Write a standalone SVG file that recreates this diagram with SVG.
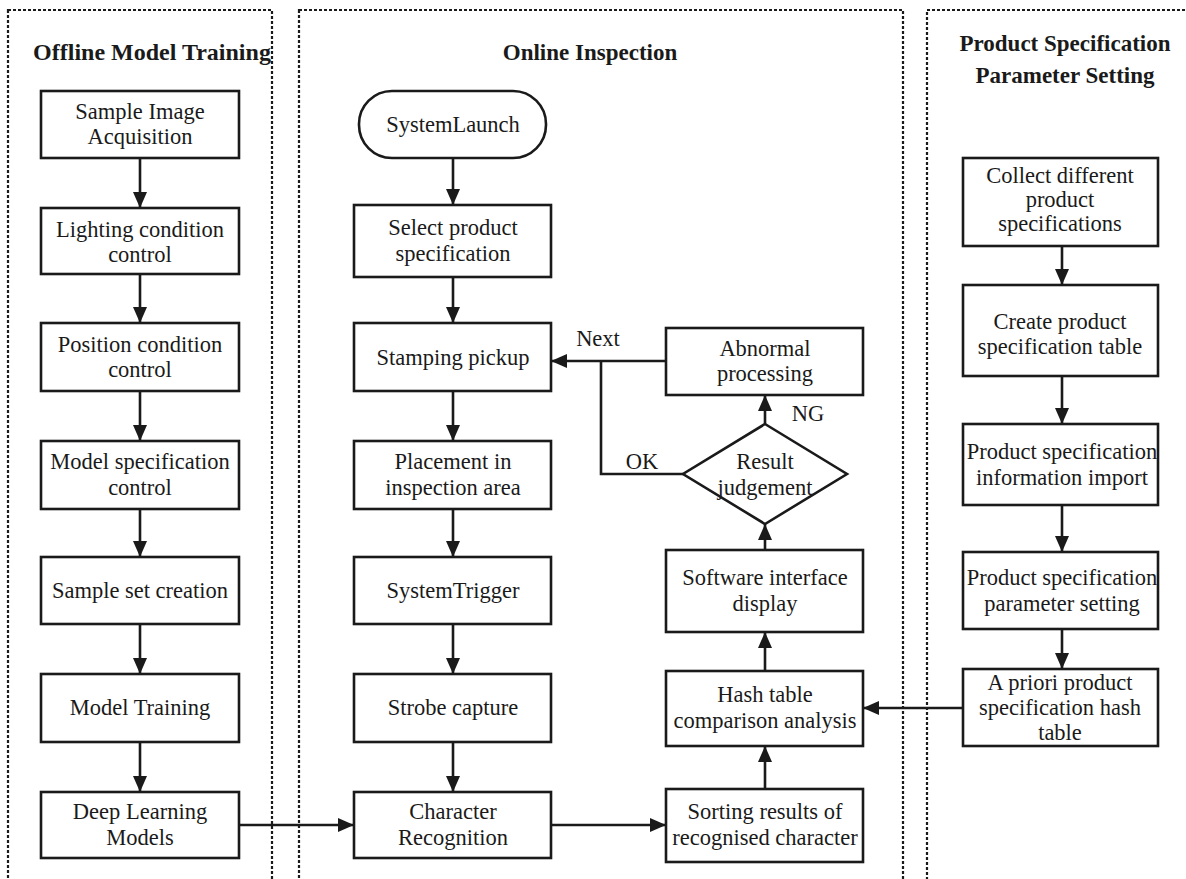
<svg xmlns="http://www.w3.org/2000/svg" width="1186" height="879" viewBox="0 0 1186 879">
<defs>
<marker id="ah" markerUnits="userSpaceOnUse" markerWidth="16" markerHeight="14" refX="16" refY="7" orient="auto">
<path d="M0,0 L16,7 L0,14 z" fill="#1a1a1a"/>
</marker>
<style>
.frame{fill:none;stroke:#1a1a1a;stroke-width:2.2;stroke-dasharray:3 2}
.box{fill:#fff;stroke:#1a1a1a;stroke-width:2.6}
.t{font-family:"Liberation Serif","Times New Roman",serif;font-size:22.5px;fill:#1a1a1a;text-anchor:middle}
.title{font-family:"Liberation Serif","Times New Roman",serif;font-size:23px;font-weight:bold;fill:#1a1a1a;text-anchor:middle}
.c{fill:none;stroke:#1a1a1a;stroke-width:2.6}
.a{fill:none;stroke:#1a1a1a;stroke-width:2.6;marker-end:url(#ah)}
</style>
</defs>
<rect width="1186" height="879" fill="#fff"/>
<g id="frames">
<rect class="frame" x="8" y="10" width="264" height="900"/>
<rect class="frame" x="299" y="10" width="604" height="900"/>
<rect class="frame" x="927" y="10" width="300" height="900"/>
<text class="title" x="152" y="60" style="font-size:24px">Offline Model Training</text>
<text class="title" x="590" y="60">Online Inspection</text>
<text class="title" x="1065" y="51">Product Specification</text>
<text class="title" x="1065" y="83">Parameter Setting</text>
</g>
<g id="connectors">
<line class="a" x1="140" y1="158" x2="140" y2="208"/>
<line class="a" x1="140" y1="274" x2="140" y2="323"/>
<line class="a" x1="140" y1="391" x2="140" y2="441"/>
<line class="a" x1="140" y1="509" x2="140" y2="557"/>
<line class="a" x1="140" y1="624" x2="140" y2="674"/>
<line class="a" x1="140" y1="742" x2="140" y2="792"/>
<line class="a" x1="239" y1="825" x2="354" y2="825"/>
<line class="a" x1="453" y1="158" x2="453" y2="205"/>
<line class="a" x1="453" y1="277" x2="453" y2="323"/>
<line class="a" x1="453" y1="391" x2="453" y2="441"/>
<line class="a" x1="453" y1="509" x2="453" y2="557"/>
<line class="a" x1="453" y1="624" x2="453" y2="674"/>
<line class="a" x1="453" y1="742" x2="453" y2="792"/>
<line class="a" x1="551" y1="825" x2="666" y2="825"/>
<line class="a" x1="765" y1="789" x2="765" y2="746"/>
<line class="a" x1="765" y1="671" x2="765" y2="632"/>
<line class="a" x1="765" y1="550" x2="765" y2="524"/>
<line class="a" x1="765" y1="424" x2="765" y2="395"/>
<line class="a" x1="666" y1="361" x2="551" y2="361"/>
<polyline class="c" points="683,474 601,474 601,361"/>
<line class="a" x1="963" y1="708" x2="863" y2="708"/>
<line class="a" x1="1062" y1="246" x2="1062" y2="285"/>
<line class="a" x1="1062" y1="376" x2="1062" y2="424"/>
<line class="a" x1="1062" y1="505" x2="1062" y2="552"/>
<line class="a" x1="1062" y1="629" x2="1062" y2="669"/>
<text class="t" x="598" y="346">Next</text>
<text class="t" x="642" y="469">OK</text>
<text class="t" x="808" y="421">NG</text>
</g>
<g id="n1"><rect class="box" x="41" y="91" width="198" height="67"/><text class="t" x="140" y="119">Sample Image</text><text class="t" x="140" y="144">Acquisition</text></g>
<g id="n2"><rect class="box" x="41" y="208" width="198" height="66"/><text class="t" x="140" y="237">Lighting condition</text><text class="t" x="140" y="262">control</text></g>
<g id="n3"><rect class="box" x="41" y="323" width="198" height="68"/><text class="t" x="140" y="352">Position condition</text><text class="t" x="140" y="377">control</text></g>
<g id="n4"><rect class="box" x="41" y="441" width="198" height="68"/><text class="t" x="140" y="469">Model specification</text><text class="t" x="140" y="495">control</text></g>
<g id="n5"><rect class="box" x="41" y="557" width="198" height="67"/><text class="t" x="140" y="598">Sample set creation</text></g>
<g id="n6"><rect class="box" x="41" y="674" width="198" height="68"/><text class="t" x="140" y="715">Model Training</text></g>
<g id="n7"><rect class="box" x="41" y="792" width="198" height="66"/><text class="t" x="140" y="819">Deep Learning</text><text class="t" x="140" y="845">Models</text></g>
<g id="m1"><rect class="box" x="359" y="91" width="187" height="67" rx="33" ry="33"/><text class="t" x="453" y="132">SystemLaunch</text></g>
<g id="m2"><rect class="box" x="354" y="205" width="197" height="72"/><text class="t" x="453" y="235">Select product</text><text class="t" x="453" y="261">specification</text></g>
<g id="m3"><rect class="box" x="354" y="323" width="197" height="68"/><text class="t" x="453" y="365">Stamping pickup</text></g>
<g id="m4"><rect class="box" x="354" y="441" width="197" height="68"/><text class="t" x="453" y="469">Placement in</text><text class="t" x="453" y="495">inspection area</text></g>
<g id="m5"><rect class="box" x="354" y="557" width="197" height="67"/><text class="t" x="453" y="598">SystemTrigger</text></g>
<g id="m6"><rect class="box" x="354" y="674" width="197" height="68"/><text class="t" x="453" y="715">Strobe capture</text></g>
<g id="m7"><rect class="box" x="354" y="792" width="197" height="66"/><text class="t" x="453" y="819">Character</text><text class="t" x="453" y="845">Recognition</text></g>
<g id="r1"><rect class="box" x="666" y="328" width="197" height="67"/><text class="t" x="765" y="356">Abnormal</text><text class="t" x="765" y="381">processing</text></g>
<g id="r2"><polygon class="box" points="765,424 847,474 765,524 683,474"/><text class="t" x="765" y="469">Result</text><text class="t" x="765" y="495">judgement</text></g>
<g id="r3"><rect class="box" x="666" y="550" width="197" height="82"/><text class="t" x="765" y="585">Software interface</text><text class="t" x="765" y="611">display</text></g>
<g id="r4"><rect class="box" x="666" y="671" width="197" height="75"/><text class="t" x="765" y="702">Hash table</text><text class="t" x="765" y="728">comparison analysis</text></g>
<g id="r5"><rect class="box" x="666" y="789" width="197" height="73"/><text class="t" x="765" y="819">Sorting results of</text><text class="t" x="765" y="845">recognised character</text></g>
<g id="p1"><rect class="box" x="963" y="158" width="195" height="88"/><text class="t" x="1060" y="183">Collect different</text><text class="t" x="1060" y="207">product</text><text class="t" x="1060" y="231">specifications</text></g>
<g id="p2"><rect class="box" x="963" y="285" width="195" height="91"/><text class="t" x="1060" y="329">Create product</text><text class="t" x="1060" y="354">specification table</text></g>
<g id="p3"><rect class="box" x="963" y="424" width="195" height="81"/><text class="t" x="1062" y="459">Product specification</text><text class="t" x="1062" y="485">information import</text></g>
<g id="p4"><rect class="box" x="963" y="552" width="195" height="77"/><text class="t" x="1062" y="585">Product specification</text><text class="t" x="1062" y="611">parameter setting</text></g>
<g id="p5"><rect class="box" x="963" y="669" width="195" height="77"/><text class="t" x="1060" y="690">A priori product</text><text class="t" x="1060" y="715">specification hash</text><text class="t" x="1060" y="740">table</text></g>
</svg>
